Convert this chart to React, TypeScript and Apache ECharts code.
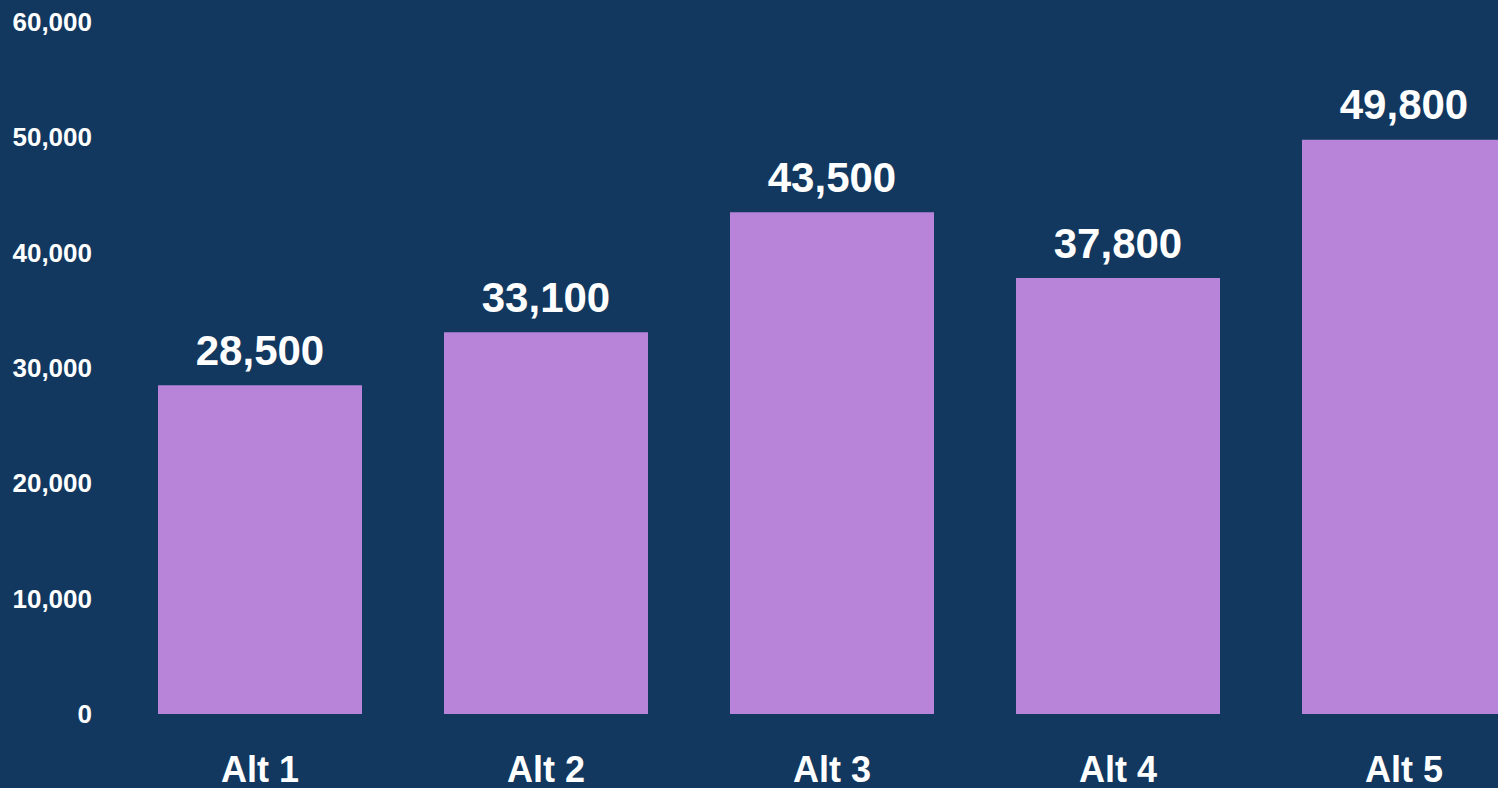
import React, { useEffect, useRef } from "react";
import * as echarts from "echarts";

const categories = ["Alt 1", "Alt 2", "Alt 3", "Alt 4", "Alt 5"];
const values = [28500, 33100, 43500, 37800, 49800];
const yMax = 60000;
const yInterval = 10000;

const fmt = (v: number) => v.toLocaleString("en-US");

export default function App() {
  const ref = useRef<HTMLDivElement>(null);
  useEffect(() => {
    if (!ref.current) return;
    const chart = echarts.init(ref.current, null, { renderer: "svg" });
    const font = "'Liberation Sans', Arial, sans-serif";
    chart.setOption({
      animation: false,
      backgroundColor: "#12385F",
      grid: { left: 117, right: 0, top: 22, bottom: 74, containLabel: false },
      xAxis: {
        type: "category",
        data: categories,
        axisLine: { show: false },
        axisTick: { show: false },
        axisLabel: {
          color: "#ffffff",
          fontFamily: font,
          fontWeight: "bold",
          fontSize: 36,
          margin: 37,
        },
      },
      yAxis: {
        type: "value",
        min: 0,
        max: yMax,
        interval: yInterval,
        splitLine: { show: false },
        axisLine: { show: false },
        axisTick: { show: false },
        axisLabel: {
          color: "#ffffff",
          fontFamily: font,
          fontWeight: "bold",
          fontSize: 26,
          margin: 25,
          formatter: (v: number) => fmt(v),
        },
      },
      series: [
        {
          type: "bar",
          data: values,
          barWidth: 204,
          itemStyle: { color: "#B784DA" },
          label: {
            show: true,
            position: "top",
            distance: 14,
            color: "#ffffff",
            fontFamily: font,
            fontWeight: "bold",
            fontSize: 42,
            formatter: (p: any) => fmt(p.value),
          },
        },
      ],
    });
    return () => chart.dispose();
  }, []);
  return (
    <div
      style={{
        position: "fixed",
        left: 0,
        top: 0,
        width: 1498,
        height: 788,
        overflow: "hidden",
        background: "#12385F",
      }}
    >
      <div ref={ref} style={{ width: 1547, height: 788 }} />
    </div>
  );
}
